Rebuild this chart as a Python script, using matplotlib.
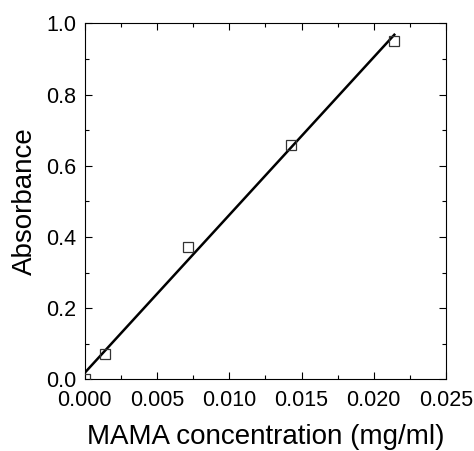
import matplotlib
matplotlib.use("Agg")
import matplotlib.pyplot as plt
import numpy as np
from matplotlib.ticker import MultipleLocator

plt.rcParams["font.family"] = ["Liberation Sans", "DejaVu Sans"]

# MAMA calibration data
conc = [0.0, 0.00139, 0.00711, 0.01427, 0.02142]
absorbance = [0.0, 0.071, 0.371, 0.658, 0.952]

slope, intercept = np.polyfit(conc, absorbance, 1)
x_fit = np.array([min(conc), max(conc)])
y_fit = intercept + slope * x_fit

fig = plt.figure(figsize=(4.74, 4.51), dpi=100)
ax = fig.add_axes([0.179, 0.159, 0.762, 0.789])

ax.plot(x_fit, y_fit, color="black", linewidth=1.8, zorder=2)
ax.plot(conc, absorbance, linestyle="none", marker="s", markersize=6.8,
        markerfacecolor="none", markeredgecolor="#333333", markeredgewidth=0.9, zorder=3)

ax.set_xlim(0, 0.025)
ax.set_ylim(0, 1.0)
ax.xaxis.set_major_locator(MultipleLocator(0.005))
ax.xaxis.set_minor_locator(MultipleLocator(0.0025))
ax.yaxis.set_major_locator(MultipleLocator(0.2))
ax.yaxis.set_minor_locator(MultipleLocator(0.1))
ax.xaxis.set_major_formatter(plt.FormatStrFormatter("%.3f"))
ax.yaxis.set_major_formatter(plt.FormatStrFormatter("%.1f"))

ax.tick_params(which="both", direction="in", top=True, right=True, width=0.8)
ax.tick_params(which="major", length=5, labelsize=15.5)
ax.tick_params(which="minor", length=3)
ax.tick_params(axis="x", pad=8)
ax.tick_params(axis="y", pad=6)
for s in ax.spines.values():
    s.set_linewidth(0.8)

ax.set_xlabel("MAMA concentration (mg/ml)", fontsize=20, labelpad=9)
ax.set_ylabel("Absorbance", fontsize=20, labelpad=6)

fig.savefig("out.png", dpi=100)
